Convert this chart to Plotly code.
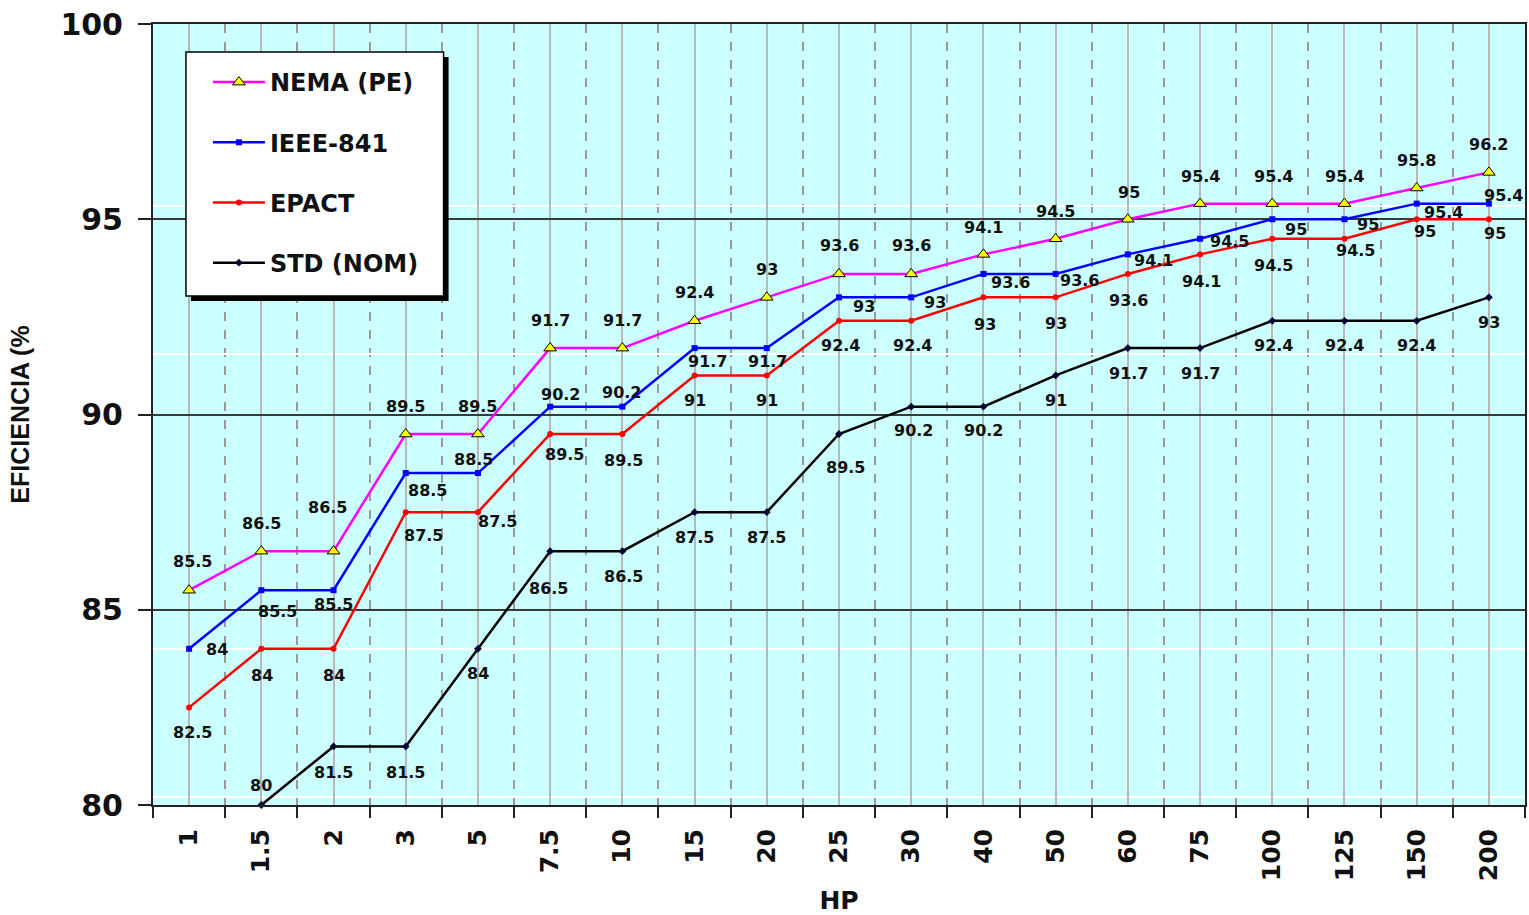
import plotly.graph_objects as go

# Motor size categories (HP) and full-load efficiency (%) by standard
hp = ["1", "1.5", "2", "3", "5", "7.5", "10", "15", "20", "25", "30",
      "40", "50", "60", "75", "100", "125", "150", "200"]
nema = [85.5, 86.5, 86.5, 89.5, 89.5, 91.7, 91.7, 92.4, 93, 93.6, 93.6,
        94.1, 94.5, 95, 95.4, 95.4, 95.4, 95.8, 96.2]
ieee = [84, 85.5, 85.5, 88.5, 88.5, 90.2, 90.2, 91.7, 91.7, 93, 93,
        93.6, 93.6, 94.1, 94.5, 95, 95, 95.4, 95.4]
epact = [82.5, 84, 84, 87.5, 87.5, 89.5, 89.5, 91, 91, 92.4, 92.4,
         93, 93, 93.6, 94.1, 94.5, 94.5, 95, 95]
std_nom = [None, 80, 81.5, 81.5, 84, 86.5, 86.5, 87.5, 87.5, 89.5, 90.2,
           90.2, 91, 91.7, 91.7, 92.4, 92.4, 92.4, 93]

y_ticks = [80, 85, 90, 95, 100]

# Pixel offsets (dx right, dy down) of each value label from its point
nema_off = [(3, -29), (0, -28), (-6, -44), (0, -28), (0, -28), (0, -28), (0, -28),
            (0, -28), (0, -28), (0, -28), (0, -28), (0, -27), (0, -27), (1, -27),
            (0, -27), (1, -27), (0, -27), (0, -28), (0, -28)]
ieee_off = [(28, 1), (16, 21), (0, 14), (22, 17), (-4, -14), (10, -12), (-1, -14),
            (13, 13), (1, 13), (25, 9), (24, 5), (27, 9), (24, 7), (26, 6),
            (29, 3), (24, 10), (24, 5), (27, 9), (15, -8)]
epact_off = [(3, 25), (1, 27), (0, 27), (18, 23), (20, 9), (14, 20), (1, 26),
             (0, 25), (0, 25), (1, 25), (1, 25), (2, 27), (0, 26), (1, 27),
             (1, 27), (1, 27), (11, 12), (8, 12), (6, 14)]
std_off = [None, (0, -20), (0, 26), (0, 26), (0, 25), (-2, 37), (1, 25), (0, 25),
           (0, 25), (6, 33), (2, 24), (0, 24), (0, 25), (1, 25), (0, 25), (1, 25),
           (0, 25), (0, 25), (0, 25)]

W, H = 1529, 915
ML, MR, MT, MB = 153, 2, 24, 110
PW, PH = W - ML - MR, H - MT - MB


def px_to_paper(px, py):
    return (px - ML) / PW, (H - MB - py) / PH


xs = list(range(len(hp)))
fig = go.Figure()

series = [
    ("NEMA (PE)", nema, "#FF00FF", dict(symbol="triangle-up", size=11, color="#FFFF00",
                                         line=dict(color="#000000", width=1))),
    ("IEEE-841", ieee, "#0000FF", dict(symbol="square", size=6, color="#0000FF")),
    ("EPACT", epact, "#FF0000", dict(symbol="circle", size=6, color="#FF0000")),
    ("STD (NOM)", std_nom, "#000000", dict(symbol="diamond", size=6, color="#000033")),
]
for name, vals, color, marker in series:
    fig.add_trace(go.Scatter(
        x=xs, y=vals, name=name, legendgroup=name, mode="lines+markers",
        line=dict(color=color, width=2.5), marker=marker, cliponaxis=False,
    ))

label_font = dict(family="DejaVu Sans", size=16, color="#111111", weight="bold")
for vals, offs in [(nema, nema_off), (ieee, ieee_off), (epact, epact_off), (std_nom, std_off)]:
    for i, (v, off) in enumerate(zip(vals, offs)):
        if v is None:
            continue
        fig.add_annotation(x=i, y=v, xref="x", yref="y", text=f"{v:g}",
                           showarrow=False, xshift=off[0], yshift=-off[1],
                           font=label_font)

# legend frame: drop shadow, then white box with black border
sx0, sy0 = px_to_paper(191, 301)
sx1, sy1 = px_to_paper(449, 57)
fig.add_shape(type="rect", xref="paper", yref="paper", x0=sx0, y0=sy0, x1=sx1, y1=sy1,
              fillcolor="#000000", line=dict(width=0), layer="above")
bx0, by0 = px_to_paper(186, 296)
bx1, by1 = px_to_paper(444, 52)
fig.add_shape(type="rect", xref="paper", yref="paper", x0=bx0, y0=by0, x1=bx1, y1=by1,
              fillcolor="#FFFFFF", line=dict(color="#000000", width=1.5), layer="above")

lx, ly = px_to_paper(208, 60)
fig.update_layout(
    width=W, height=H, autosize=False,
    margin=dict(l=ML, r=MR, t=MT, b=MB),
    paper_bgcolor="#FFFFFF", plot_bgcolor="#CCFFFF",
    showlegend=True,
    legend=dict(x=lx, y=ly, xanchor="left", yanchor="top",
                bgcolor="rgba(0,0,0,0)", borderwidth=0,
                font=dict(family="DejaVu Sans", size=24, color="#111111", weight="bold"),
                traceorder="grouped", tracegroupgap=26, itemwidth=52),
    xaxis=dict(
        range=[-0.5, len(hp) - 0.5], tickvals=xs, ticktext=hp, tickangle=-90,
        tickfont=dict(family="DejaVu Sans", size=25, color="#111111", weight="bold"),
        ticks="outside", ticklen=12, tickcolor="rgba(0,0,0,0)",
        showgrid=True, gridcolor="#B8B8B8", gridwidth=2,
        minor=dict(tick0=0.5, dtick=1, showgrid=True, gridcolor="#9A9A9A",
                   griddash="dash", gridwidth=1.5, ticks="outside", ticklen=11,
                   tickcolor="#222222", tickwidth=2),
        showline=True, linecolor="#222222", linewidth=2, mirror=True, zeroline=False,
        title=dict(text="HP", standoff=12,
                   font=dict(family="DejaVu Sans", size=25, color="#111111", weight="bold")),
    ),
    yaxis=dict(
        range=[80, 100], tickvals=y_ticks, ticktext=[str(t) for t in y_ticks],
        tickfont=dict(family="DejaVu Sans", size=30, color="#111111", weight="bold"),
        ticks="outside", ticklen=13, tickcolor="#222222", tickwidth=1.5,
        ticklabelstandoff=9,
        showgrid=True, gridcolor="#3A3A3A", gridwidth=1.5,
        minor=dict(tickvals=[80.2, 84, 91.55, 95.35], showgrid=True,
                   gridcolor="#FFFFFF", gridwidth=1.5, ticks=""),
        showline=True, linecolor="#222222", linewidth=2, mirror=True, zeroline=False,
        title=dict(text="EFICIENCIA (%", standoff=24,
                   font=dict(family="Liberation Sans", size=25, color="#111111", weight="bold")),
    ),
)

fig.write_html("out.html")
